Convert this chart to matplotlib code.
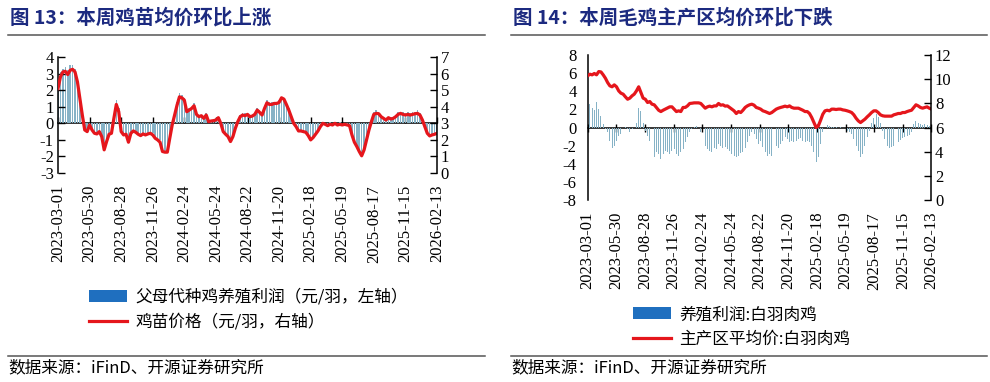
import matplotlib
matplotlib.use('Agg')
import matplotlib.pyplot as plt
import matplotlib.dates as mdates
from matplotlib.patches import Patch
from matplotlib.lines import Line2D
import pandas as pd

plt.rcParams['axes.unicode_minus'] = False
plt.rcParams['font.family'] = ['Liberation Serif', 'DejaVu Serif']
CJK = ['Noto Sans CJK SC', 'DejaVu Sans']

# ---------------- text ----------------
title_13 = '图 13：本周鸡苗均价环比上涨'
title_14 = '图 14：本周毛鸡主产区均价环比下跌'
source_text = '数据来源：iFinD、开源证券研究所'
legend_13 = ['父母代种鸡养殖利润（元/羽，左轴）', '鸡苗价格（元/羽，右轴）']
legend_14 = ['养殖利润:白羽肉鸡', '主产区平均价:白羽肉鸡']

tick_dates = ['2023-03-01', '2023-05-30', '2023-08-28', '2023-11-26', '2024-02-24',
              '2024-05-24', '2024-08-22', '2024-11-20', '2025-02-18', '2025-05-19',
              '2025-08-17', '2025-11-15', '2026-02-13']
start_date = '2023-03-01'
end_date = '2026-02-13'

# ---------------- data: figure 13 ----------------
parent_profit = [2.4, 3.1, 3.3, 3.4, 3.2, 3.5, 3.5, 3.3, 2.7, 1.6, 0.6, -0.3, -0.4, -0.1, -0.3,
                 -0.5, -0.6, -0.5, -0.8, -1.5, -1.0, -0.6, -0.5, 0.4, 1.4, 0.9, -0.4, -0.6, -0.6,
                 -1.0, -0.5, -0.4, -0.5, -0.6, -0.7, -0.6, -0.6, -0.6, -0.5, -0.6, -0.8, -0.9,
                 -1.0, -1.6, -1.7, -1.7, -0.8, 0.0, 0.6, 1.3, 1.8, 1.7, 1.5, 0.8, 0.9, 1.0, 1.2,
                 0.6, 0.5, 0.5, 0.4, 0.6, 0.2, 0.2, 0.2, 0.3, 0.4, 0.1, -0.4, -0.6, -0.8, -1.0,
                 -0.7, -0.2, 0.2, 0.5, 0.6, 0.6, 0.6, 0.5,
                 0.5, 0.6, 0.9, 0.8, 0.6, 1.0, 1.4, 1.3, 1.3, 1.3, 1.3, 1.4, 1.6, 1.5, 1.2, 0.9,
                 0.5, 0.1, -0.2, -0.4, -0.4, -0.5, -0.5, -0.7, -0.9, -0.8, -0.6, -0.4, -0.1, 0.1,
                 0.0, -0.1, 0.1, 0.0, 0.1, 0.0, 0.1, 0.0, 0.0, -0.1, -0.1, -0.7, -1.1, -1.4, -1.7,
                 -1.9, -1.6, -1.0, -0.3, 0.2, 0.7, 0.8, 0.7, 0.5, 0.4, 0.3, 0.4, 0.4, 0.4, 0.5,
                 0.7, 0.7, 0.7, 0.6, 0.7, 0.6, 0.7, 0.7, 0.8, 0.6, 0.3, -0.1, -0.5, -0.7, -0.7,
                 -0.6, -0.6]
chick_price = [5.1, 5.8, 6.1, 6.14, 5.94, 6.2, 6.26, 6.1, 5.5, 4.5, 3.5, 2.6, 2.5, 2.9, 2.6, 2.4,
               2.36, 2.5, 2.2, 1.4, 1.9, 2.34, 2.4, 3.3, 4.14, 3.7, 2.5, 2.3, 2.34, 1.86, 2.4,
               2.54, 2.46, 2.34, 2.26, 2.36, 2.3, 2.36, 2.4, 2.3, 2.1, 2.0, 1.86, 1.3, 1.26, 1.26,
               2.1, 2.9, 3.5, 4.1, 4.6, 4.54, 4.4, 3.7, 3.8, 3.9, 4.06, 3.54, 3.4, 3.46, 3.3, 3.5,
               3.1, 3.14, 3.16, 3.2, 3.34, 3.0, 2.5, 2.34, 2.2, 1.9, 2.2, 2.7, 3.1, 3.4, 3.5,
               3.46, 3.54, 3.4,
               3.44, 3.54, 3.8, 3.66, 3.5, 3.9, 4.24, 4.14, 4.14, 4.2, 4.2, 4.26, 4.54, 4.46,
               4.14, 3.8, 3.4, 3.0, 2.8, 2.54, 2.54, 2.5, 2.46, 2.26, 2.0, 2.14, 2.34, 2.54, 2.8,
               3.0, 2.94, 2.86, 2.94, 2.9, 3.0, 2.9, 2.94, 2.9, 2.94, 2.9, 2.86, 2.3, 1.86, 1.6,
               1.3, 1.04, 1.4, 2.0, 2.6, 3.1, 3.54, 3.6, 3.58, 3.4, 3.3, 3.2, 3.34, 3.26, 3.3,
               3.4, 3.54, 3.6, 3.54, 3.5, 3.54, 3.5, 3.54, 3.58, 3.6, 3.5, 3.2, 2.8, 2.4, 2.24,
               2.3, 2.34, 2.4]

# ---------------- data: figure 14 ----------------
broiler_profit = [3.0, 2.6, 2.2, 1.9, 2.8, 2.0, 1.3, 0.4, -0.2, -0.55, -1.5, -2.3, -2.0, -1.5,
                  -0.9, -0.7, 0.0, 0.07, -0.2, -0.55, -0.2, 0.0, 0.55, 2.2, 1.8, 0.55, -0.37,
                  -0.9, -1.5, -2.2, -3.3, -2.75, -2.9, -3.5, -2.9, -2.6, -2.75, -2.9, -2.6, -2.4,
                  -2.9, -3.1, -2.75, -2.4, -1.65, -1.1, -0.55, -0.2, 0.07, 0.2, 0.0, -0.55, -1.3,
                  -2.0, -2.4, -2.6, -2.65, -2.3, -2.4, -1.85, -2.0, -2.3, -2.1, -2.4, -2.6, -2.9,
                  -3.1, -3.3, -3.1, -2.85, -2.65, -2.3, -1.65, -0.9, -0.55, -0.7, -1.3, -1.85,
                  -1.5, -2.2, -2.75, -3.1, -2.9, -3.1, -2.4, -2.0, -2.3, -1.85, -1.5, -1.1, -1.3,
                  -1.65, -1.5, -1.65, -1.5, -1.3, -1.2, -1.5, -1.65, -1.5, -1.65, -2.0, -2.75,
                  -3.85, -3.3, -1.85, -0.55, 0.37, 0.25, 0.2, 0.1, 0.07, 0.1, 0.0, 0.07, 0.0,
                  -0.2, -0.37, -0.55, -0.7, -1.3, -2.0, -2.6, -3.3, -2.9, -2.0, -1.1, -0.37, 0.55,
                  1.1, 1.47, 1.2, 0.55, -0.37, -1.3, -2.0, -2.3, -2.2, -2.0, -1.85, -1.55, -1.4,
                  -1.2, -1.0, -0.9, -0.8, -0.55, 0.37, 0.73, 0.55, 0.37, 0.3, 0.37, 0.25, 0.2, 0.3]
broiler_price = [10.28, 10.41, 10.36, 10.47, 10.36, 10.63, 10.6, 10.36, 10.08, 9.72, 9.45, 9.37,
                 9.53, 9.37, 9.03, 8.84, 8.76, 8.54, 8.34, 8.43, 8.62, 8.76, 9.03, 9.37, 8.9,
                 8.43, 8.34, 8.07, 8.15, 7.93, 7.88, 7.66, 7.43, 7.32, 7.43, 7.52, 7.6, 7.71,
                 7.71, 7.52, 7.32, 7.38, 7.32, 7.66, 7.66, 7.79, 7.99, 8.01, 8.04, 8.04, 8.04,
                 7.99, 7.79, 7.6, 7.71, 7.77, 7.71, 7.79, 7.79, 7.99, 7.85, 7.88, 7.77, 7.79,
                 7.66, 7.52, 7.38, 7.16, 7.32, 7.24, 7.43, 7.66, 7.79, 7.88, 7.93, 7.85, 7.66,
                 7.6,
                 7.52, 7.38, 7.32, 7.24, 7.16, 7.24, 7.38, 7.52, 7.6, 7.66, 7.71, 7.77, 7.71,
                 7.79, 7.66, 7.6, 7.6, 7.6, 7.52, 7.43, 7.32, 7.32, 7.16, 6.83, 6.41, 6.0, 6.14,
                 6.6, 7.1, 7.38, 7.43, 7.38, 7.52, 7.52, 7.49, 7.52, 7.52, 7.46, 7.43, 7.38,
                 7.32, 7.24, 7.05, 6.77, 6.55, 6.41, 6.55, 6.69, 6.88, 7.05, 7.24, 7.38, 7.38,
                 7.24, 7.05, 6.97, 6.94, 6.94, 6.94, 6.94, 7.05, 7.1, 7.16, 7.16, 7.24, 7.24,
                 7.32, 7.38, 7.43, 7.66, 7.88, 7.79, 7.66, 7.6, 7.66, 7.71, 7.6, 7.52]

# ---------------- style ----------------
BAR_COLOR = '#86b2c6'
LEGEND_BAR = '#1f6fbf'
RED = '#e5161c'
TITLE_COLOR = '#1c2a80'
RULE_COLOR = '#555555'

fig = plt.figure(figsize=(9.9, 3.82), dpi=100)

tick_pos = mdates.date2num(pd.to_datetime(tick_dates))
x0 = pd.Timestamp(start_date)
x1 = pd.Timestamp(end_date)


def build(rect, profit, price, ylim_l, yticks_l, ylim_r, yticks_r, left_ticks, zero_dir, zero_len,
          xpad, bar_w):
    ax = fig.add_axes(rect)
    d_bar = pd.date_range(start_date, end_date, periods=len(profit))
    d_line = pd.date_range(start_date, end_date, periods=len(price))
    ax.bar(d_bar, profit, width=bar_w, color=BAR_COLOR, linewidth=0)
    ax2 = ax.twinx()
    ax2.plot(d_line, price, color=RED, lw=2.3, solid_joinstyle='round')
    ax.set_xlim(x0, x1)
    ax.set_ylim(*ylim_l)
    ax.set_yticks(yticks_l)
    ax2.set_ylim(*ylim_r)
    ax2.set_yticks(yticks_r)
    for a in (ax, ax2):
        for s in ('top', 'bottom'):
            a.spines[s].set_visible(False)
    ax.spines['right'].set_visible(False)
    ax2.spines['left'].set_visible(False)
    ax.spines['left'].set_linewidth(1.1)
    ax2.spines['right'].set_linewidth(1.1)
    ax.set_xticks(tick_pos)
    ax.xaxis.set_major_formatter(mdates.DateFormatter('%Y-%m-%d'))
    ax.tick_params(axis='x', length=0, pad=xpad, labelsize=12, labelrotation=90)
    if left_ticks:
        ax.tick_params(axis='y', direction='in', length=5, width=1, pad=3, labelsize=12)
    else:
        ax.tick_params(axis='y', length=0, pad=8, labelsize=12)
    ax2.tick_params(axis='y', direction='in', length=5, width=1, pad=2.5, labelsize=12)
    # zero line acting as the x axis
    zfrac = (0 - ylim_l[0]) / (ylim_l[1] - ylim_l[0])
    sec = ax.secondary_xaxis(zfrac)
    sec.set_xticks(tick_pos)
    sec.tick_params(axis='x', direction=zero_dir, length=zero_len, width=1,
                    labelbottom=False, labeltop=False)
    for s in sec.spines.values():
        s.set_linewidth(1.1)
    ax2.set_zorder(ax.get_zorder() + 1)
    return ax, ax2


build([0.0586, 0.547, 0.3828, 0.3037], parent_profit, chick_price,
      (-3, 4), list(range(-3, 5)), (0, 7), list(range(0, 8)), True, 'in', 4.5, 8.5, 4.5)
build([0.5936, 0.4764, 0.3473, 0.3796], broiler_profit, broiler_price,
      (-8, 8), list(range(-8, 9, 2)), (0, 12), list(range(0, 13, 2)), False, 'inout', 6, 8.5, 3)

# titles and rules
fig.text(0.010, 0.955, title_13, fontsize=14, fontweight='bold', color=TITLE_COLOR,
         family=CJK, va='center', ha='left')
fig.text(0.518, 0.955, title_14, fontsize=14, fontweight='bold', color=TITLE_COLOR,
         family=CJK, va='center', ha='left')
for xa, xb in ((0.008, 0.490), (0.516, 0.997)):
    fig.add_artist(Line2D([xa, xb], [1 - 35 / 382, 1 - 35 / 382], transform=fig.transFigure,
                          color=RULE_COLOR, lw=1.1))
    fig.add_artist(Line2D([xa, xb], [1 - 356 / 382, 1 - 356 / 382], transform=fig.transFigure,
                          color=RULE_COLOR, lw=1.1))
fig.text(0.008, 1 - 368 / 382, source_text, fontsize=12, family=CJK, va='center', ha='left')
fig.text(0.516, 1 - 368 / 382, source_text, fontsize=12, family=CJK, va='center', ha='left')

# legends
h_bar = Patch(facecolor=LEGEND_BAR, edgecolor='none')
h_line = Line2D([0], [0], color=RED, lw=2.3)
fig.legend([h_bar, h_line], legend_13, loc='upper left', bbox_to_anchor=(0.090, 1 - 289 / 382),
           frameon=False, prop={'family': CJK, 'size': 12}, handlelength=2.3,
           handleheight=0.7, handletextpad=0.5, labelspacing=0.45, borderpad=0,
           borderaxespad=0)
fig.legend([h_bar, h_line], legend_14, loc='upper left', bbox_to_anchor=(0.639, 1 - 306 / 382),
           frameon=False, prop={'family': CJK, 'size': 12}, handlelength=2.3,
           handleheight=0.7, handletextpad=0.5, labelspacing=0.45, borderpad=0,
           borderaxespad=0)

fig.savefig('out.png', dpi=100)
